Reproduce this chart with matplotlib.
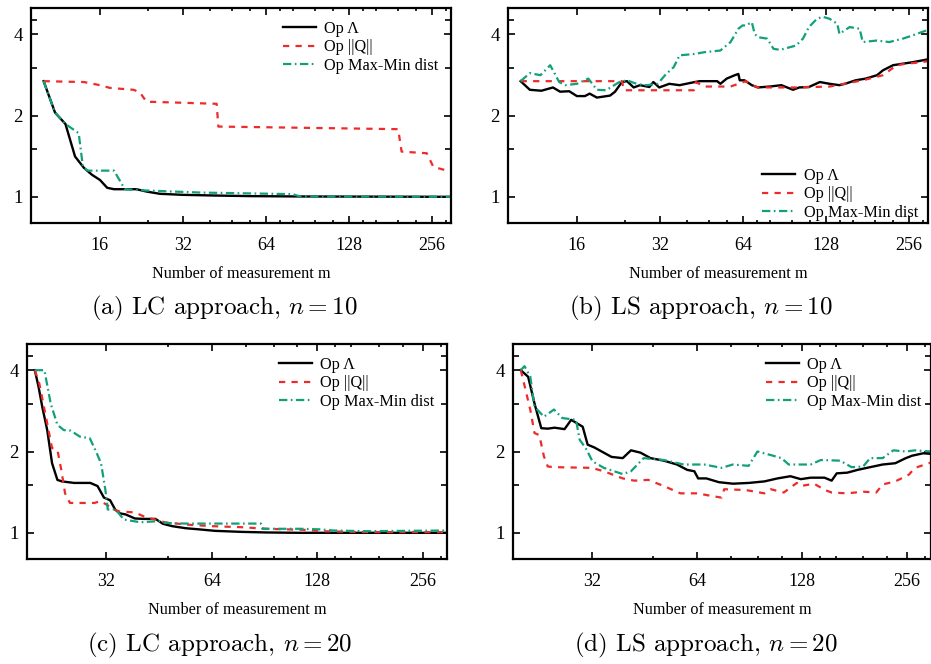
import matplotlib
matplotlib.use("Agg")
import matplotlib.pyplot as plt
from matplotlib.ticker import FixedLocator, NullFormatter

plt.rcParams['font.family'] = ['Liberation Serif', 'DejaVu Serif']
plt.rcParams['mathtext.fontset'] = 'cm'
plt.rcParams['lines.scale_dashes'] = False

# ---------- data: (a) LC approach, n = 10 ----------
a_lam_m = [10, 11, 12, 13, 14, 15, 16, 17, 18, 21.7, 23.6, 26.4, 32, 42, 56, 85, 300]
a_lam_v = [2.68, 2.05, 1.86, 1.41, 1.28, 1.205, 1.155, 1.08, 1.067, 1.067, 1.046, 1.026,
           1.017, 1.011, 1.006, 1.003, 1.0]
a_q_m = [10, 14, 16, 17.4, 21.2, 22.3, 23.6, 42.4, 43, 193, 198.6, 245, 259, 300]
a_q_v = [2.68, 2.66, 2.59, 2.53, 2.49, 2.44, 2.25, 2.21, 1.82, 1.78, 1.47, 1.45, 1.29, 1.24]
a_mm_m = [10, 11, 12, 13.4, 13.9, 14.5, 18, 19.7, 23.6, 37, 80, 85, 300]
a_mm_v = [2.68, 2.05, 1.86, 1.72, 1.28, 1.25, 1.25, 1.067, 1.055, 1.037, 1.023, 1.003, 1.0]

# ---------- data: (b) LS approach, n = 10 ----------
b_lam_m = [10, 10.8, 11.9, 13.1, 13.9, 15, 16, 17.1, 17.8, 18.9, 21.1, 22, 23.3, 24.3,
           25.7, 27.1, 29.3, 30.3, 31.8, 34.6, 37.7, 42.8, 44.7, 51.6, 53, 55.9, 59.8,
           61.6, 62.3, 64.8, 68.9, 72.5, 80.1, 88.2, 97.2, 102.4, 111, 121.6, 132,
           143.2, 150, 164, 178.5, 196, 206, 224, 243, 264, 296]
b_lam_v = [2.68, 2.49, 2.47, 2.54, 2.45, 2.46, 2.36, 2.36, 2.41, 2.33, 2.37, 2.45, 2.66,
           2.68, 2.54, 2.59, 2.55, 2.66, 2.54, 2.62, 2.59, 2.66, 2.68, 2.68, 2.62, 2.74,
           2.82, 2.85, 2.70, 2.70, 2.59, 2.54, 2.56, 2.59, 2.49, 2.54, 2.55, 2.66, 2.62,
           2.59, 2.62, 2.70, 2.74, 2.82, 2.94, 3.07, 3.11, 3.15, 3.22]
b_q_m = [10, 21.1, 23.3, 23.7, 42.5, 43.2, 46.3, 57.7, 65.6, 69, 72.5, 99.6, 132, 143,
         174, 206, 231, 250, 285, 300]
b_q_v = [2.68, 2.68, 2.68, 2.48, 2.48, 2.66, 2.56, 2.56, 2.68, 2.59, 2.54, 2.54, 2.56,
         2.60, 2.70, 2.82, 3.07, 3.11, 3.15, 3.18]
b_mm_m = [10, 10.8, 11.8, 12.8, 13.8, 14.5, 16, 17.6, 18.9, 20.4, 22.8, 24.3, 26.6, 28.7,
          31.4, 33.6, 35.9, 37.7, 42.8, 46.3, 53, 57.7, 61.6, 63.8, 65.6, 68.9, 70.6,
          72.5, 78.4, 82.6, 87.3, 99.6, 105.6, 111, 118.7, 124.5, 132, 140.7, 143.2,
          156, 169.5, 174, 196, 217, 243, 264, 300]
b_mm_v = [2.68, 2.87, 2.82, 3.07, 2.66, 2.59, 2.62, 2.74, 2.49, 2.48, 2.66, 2.70, 2.61,
          2.59, 2.62, 2.84, 3.02, 3.34, 3.38, 3.43, 3.48, 3.74, 4.19, 4.31, 4.31, 4.43,
          4.01, 3.90, 3.85, 3.53, 3.50, 3.63, 3.85, 4.25, 4.56, 4.64, 4.56, 4.37, 4.01,
          4.25, 4.19, 3.74, 3.79, 3.74, 3.85, 3.96, 4.15]

# ---------- data: (c) LC approach, n = 20 ----------
c_lam_m = [20, 20.5, 21, 21.7, 22.4, 23.2, 23.9, 25.9, 28.8, 30.2, 31.5, 32.8, 33.9, 35,
           36.3, 38.6, 40.8, 44.2, 46.4, 49.4, 53.9, 58.8, 65.3, 77.9, 91.5, 114, 300]
c_lam_v = [4.0, 3.47, 2.93, 2.40, 1.81, 1.57, 1.55, 1.53, 1.53, 1.49, 1.35, 1.32, 1.22,
           1.18, 1.17, 1.13, 1.126, 1.126, 1.08, 1.058, 1.04, 1.03, 1.017, 1.008, 1.003,
           1.0, 1.0]
c_q_m = [20, 20.6, 21.6, 22.2, 22.4, 23.2, 23.8, 24.4, 25.2, 29.6, 30.8, 32.1, 33.5, 34.9,
         38.6, 41.8, 44.2, 47, 53.9, 64.5, 77.9, 91.5, 117, 130, 176, 300]
c_q_v = [4.0, 3.57, 2.62, 2.18, 2.06, 2.03, 1.71, 1.40, 1.29, 1.29, 1.31, 1.27, 1.22, 1.20,
         1.19, 1.136, 1.12, 1.094, 1.073, 1.058, 1.049, 1.035, 1.026, 1.014, 1.006, 1.006]
c_mm_m = [20, 21.3, 22.2, 23.2, 24.2, 25.3, 26.9, 28.7, 29.9, 30.9, 31.8, 32.3, 34, 35.9,
          40, 45.3, 47, 53.9, 74.3, 88.3, 89.2, 114, 130, 142, 176, 300]
c_mm_v = [4.0, 4.0, 3.01, 2.51, 2.40, 2.39, 2.27, 2.24, 2.0, 1.81, 1.44, 1.22, 1.22, 1.12,
          1.094, 1.105, 1.088, 1.082, 1.082, 1.082, 1.035, 1.035, 1.03, 1.02, 1.014, 1.02]

# ---------- data: (d) LS approach, n = 20 ----------
d_lam_m = [20, 21, 21.9, 22.9, 23.9, 25, 26.7, 27.9, 30.1, 31.1, 32.5, 34.6, 36.4, 39.2,
           41.4, 44.1, 47.1, 51.4, 56.1, 60, 62.9, 64.5, 68.1, 73.9, 81.1, 90.2, 99.9,
           108.9, 118.6, 127, 135.5, 148.5, 155.7, 161, 172.6, 184.8, 200.7, 218, 237,
           254, 265, 285, 300]
d_lam_v = [4.0, 3.78, 3.01, 2.44, 2.43, 2.45, 2.42, 2.62, 2.47, 2.12, 2.07, 1.98, 1.91,
           1.89, 2.02, 1.98, 1.89, 1.85, 1.79, 1.71, 1.69, 1.59, 1.59, 1.54, 1.52, 1.53,
           1.55, 1.59, 1.62, 1.58, 1.60, 1.60, 1.56, 1.66, 1.67, 1.71, 1.75, 1.79, 1.81,
           1.89, 1.93, 1.97, 1.96]
d_q_m = [20, 20.6, 21.3, 21.9, 22.6, 23.3, 23.9, 25, 31.9, 34.6, 39.2, 42.3, 46.4, 51.4,
         57.4, 64.3, 70.2, 75.3, 76.6, 88.3, 99.9, 104.2, 113.5, 123.7, 127, 138.6, 149,
         155.7, 172.6, 191.7, 209, 218, 237, 259, 270, 300]
d_q_v = [4.0, 3.42, 2.85, 2.34, 2.30, 1.92, 1.76, 1.75, 1.74, 1.69, 1.59, 1.56, 1.57, 1.49,
         1.40, 1.40, 1.37, 1.35, 1.45, 1.44, 1.40, 1.45, 1.41, 1.53, 1.49, 1.52, 1.44,
         1.41, 1.40, 1.42, 1.41, 1.51, 1.55, 1.64, 1.74, 1.82]
d_mm_m = [20, 20.5, 21.3, 21.9, 23.3, 24.9, 26.3, 28.8, 29.5, 30.7, 32.1, 34.6, 39.2, 41.4,
          45, 51.4, 58.6, 67.1, 75.3, 81.1, 90, 95.4, 104.2, 111.8, 117.3, 135.5, 145,
          164.7, 177.6, 191.7, 200.7, 218, 234, 254, 270, 300]
d_mm_v = [4.0, 4.14, 3.78, 2.93, 2.69, 2.86, 2.66, 2.62, 2.21, 2.06, 1.84, 1.74, 1.65, 1.69,
          1.89, 1.86, 1.79, 1.79, 1.74, 1.79, 1.77, 2.0, 1.94, 1.89, 1.79, 1.79, 1.86,
          1.85, 1.75, 1.76, 1.89, 1.89, 2.02, 2.0, 2.02, 2.0]

labels = ['Op \u039b', 'Op ||Q||', 'Op Max-Min dist']
captions = ['(a) LC approach, $n = 10$', '(b) LS approach, $n = 10$',
            '(c) LC approach, $n = 20$', '(d) LS approach, $n = 20$']

RED = '#ee2a2a'
GREEN = '#12a07a'

W, H = 931, 664
fig = plt.figure(figsize=(W / 100, H / 100), dpi=100)


def px_axes(left, top, right, bottom):
    return fig.add_axes([left / W, 1 - bottom / H, (right - left) / W, (bottom - top) / H])


panels = [
    dict(box=(31, 8, 451, 223), xmin=9, major=[16, 32, 64, 128, 256],
         minor=[24, 40, 48, 56, 72, 80, 96, 112, 144, 160, 192, 224, 288],
         data=[(a_lam_m, a_lam_v), (a_q_m, a_q_v), (a_mm_m, a_mm_v)],
         leg=(0.6, 0.94), cap=(224, 308)),
    dict(box=(508, 8, 928, 223), xmin=9, major=[16, 32, 64, 128, 256],
         minor=[24, 40, 48, 56, 72, 80, 96, 112, 144, 160, 192, 224, 288],
         data=[(b_lam_m, b_lam_v), (b_q_m, b_q_v), (b_mm_m, b_mm_v)],
         leg=(0.605, 0.256), cap=(701, 308)),
    dict(box=(27, 344, 447, 559), xmin=19, major=[32, 64, 128, 256],
         minor=[48, 80, 96, 112, 144, 160, 192, 224, 288],
         data=[(c_lam_m, c_lam_v), (c_q_m, c_q_v), (c_mm_m, c_mm_v)],
         leg=(0.6, 0.94), cap=(220, 645)),
    dict(box=(513, 344, 931, 559), xmin=19, major=[32, 64, 128, 256],
         minor=[48, 80, 96, 112, 144, 160, 192, 224, 288],
         data=[(d_lam_m, d_lam_v), (d_q_m, d_q_v), (d_mm_m, d_mm_v)],
         leg=(0.605, 0.94), cap=(706, 645)),
]

for p, cap in zip(panels, captions):
    ax = px_axes(*p['box'])
    (m1, v1), (m2, v2), (m3, v3) = p['data']
    ax.plot(m1, v1, color='black', lw=1.7, label=labels[0])
    ax.plot(m2, v2, color=RED, lw=1.6, dashes=(4.5, 4.5), label=labels[1])
    ax.plot(m3, v3, color=GREEN, lw=1.6, dashes=(6, 2.5, 1.2, 2.5), label=labels[2])

    ax.set_xscale('log', base=2)
    ax.set_yscale('log', base=2)
    ax.set_xlim(p['xmin'], 300)
    ax.set_ylim(0.8, 5)
    ax.xaxis.set_major_locator(FixedLocator(p['major']))
    ax.xaxis.set_minor_locator(FixedLocator(p['minor']))
    ax.set_xticklabels([str(t) for t in p['major']])
    ax.xaxis.set_minor_formatter(NullFormatter())
    ax.yaxis.set_major_locator(FixedLocator([1, 2, 4]))
    ax.yaxis.set_minor_locator(FixedLocator([1.5, 3, 4.5]))
    ax.set_yticklabels(['1', '2', '4'])
    ax.yaxis.set_minor_formatter(NullFormatter())

    ax.tick_params(which='both', direction='in', top=True, right=True, width=1.2)
    ax.tick_params(axis='x', which='major', length=5, pad=10, labelsize=13)
    ax.tick_params(axis='x', which='minor', length=2.5)
    ax.tick_params(axis='y', which='major', length=5, pad=6, labelsize=13.5)
    ax.tick_params(axis='y', which='minor', length=4)
    for s in ax.spines.values():
        s.set_linewidth(1.6)

    ax.set_xlabel('Number of measurement m', fontsize=11.7, labelpad=9)
    ax.legend(loc='upper left', bbox_to_anchor=p['leg'], frameon=False, fontsize=11.7,
              borderpad=0, borderaxespad=0, handlelength=2.05, handletextpad=0.5,
              labelspacing=0.15)

    fig.text(p['cap'][0] / W, 1 - p['cap'][1] / H, cap, fontfamily='cmr10',
             fontsize=18, ha='center', va='center')

fig.savefig('out.png', dpi=100)
